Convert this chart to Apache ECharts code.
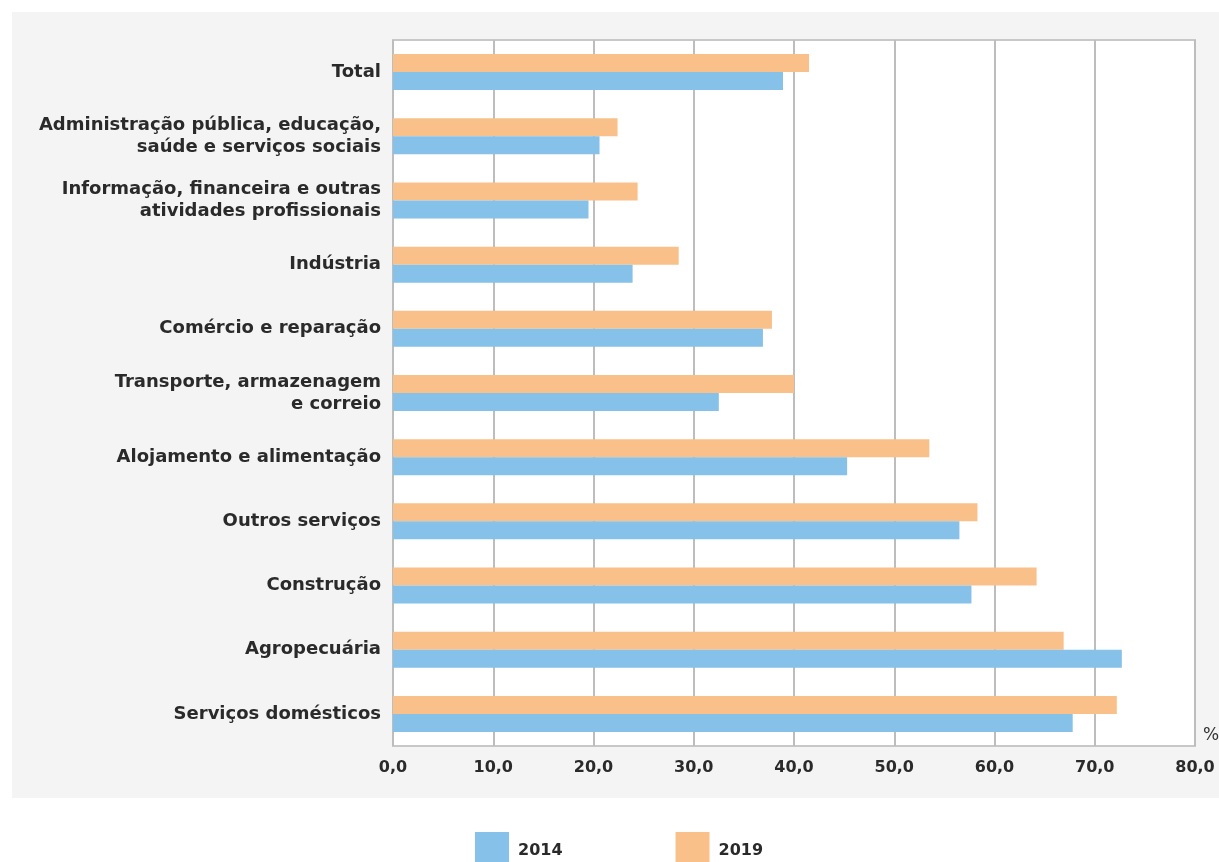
<!DOCTYPE html>
<html><head><meta charset="utf-8">
<script src="https://cdn.jsdelivr.net/npm/echarts@6/dist/echarts.min.js"></script>
<style>html,body{margin:0;padding:0;background:#fff}#c{width:1219px;height:862px}</style>
</head><body><div id="c"></div>
<script>
const categories = [
  'Total',
  'Administração pública, educação,\nsaúde e serviços sociais',
  'Informação, financeira e outras\natividades profissionais',
  'Indústria',
  'Comércio e reparação',
  'Transporte, armazenagem\ne correio',
  'Alojamento e alimentação',
  'Outros serviços',
  'Construção',
  'Agropecuária',
  'Serviços domésticos'
];
const values2014 = [38.9, 20.6, 19.5, 23.9, 36.9, 32.5, 45.3, 56.5, 57.7, 72.7, 67.8];
const values2019 = [41.5, 22.4, 24.4, 28.5, 37.8, 40.0, 53.5, 58.3, 64.2, 66.9, 72.2];
const xTicks = [0, 10, 20, 30, 40, 50, 60, 70, 80];

const chart = echarts.init(document.getElementById('c'), null, {renderer: 'canvas'});
const font = 'DejaVu Sans, sans-serif';
chart.setOption({
  animation: false,
  backgroundColor: '#ffffff',
  graphic: [{
    type: 'rect', z: -10, silent: true,
    shape: {x: 12, y: 12, width: 1207, height: 786},
    style: {fill: '#f4f4f4'}
  }],
  grid: {
    left: 393, right: 24, top: 40, bottom: 116,
    outerBoundsMode: 'none', containLabel: false,
    show: true, backgroundColor: '#ffffff', borderColor: '#c8c8c8', borderWidth: 2
  },
  legend: {
    data: ['2014', '2019'],
    left: 475, top: 832, padding: 0,
    itemWidth: 34, itemHeight: 30, itemGap: 113,
    formatter: '{a|{name}}',
    textStyle: {
      fontFamily: font, fontSize: 16, fontWeight: 'bold', color: '#2a2a2a',
      rich: {a: {fontFamily: font, fontSize: 16, fontWeight: 'bold', color: '#2a2a2a', padding: [8, 0, 0, 4]}}
    },
    icon: 'rect'
  },
  xAxis: {
    type: 'value', min: 0, max: 80, interval: 10,
    name: '%', nameLocation: 'end', nameGap: 8,
    nameTextStyle: {fontFamily: font, fontSize: 17, color: '#333', verticalAlign: 'bottom', padding: [0, 0, 2, 0]},
    axisLine: {show: false},
    axisTick: {show: false},
    splitLine: {show: true, lineStyle: {color: '#bdbdbd', width: 2}},
    axisLabel: {
      fontFamily: font, fontSize: 16, color: '#2a2a2a', margin: 14, fontWeight: 'bold',
      formatter: v => xTicks.includes(v) ? v.toFixed(1).replace('.', ',') : ''
    }
  },
  yAxis: {
    type: 'category', data: categories, inverse: true,
    axisLine: {show: false}, axisTick: {show: false},
    axisLabel: {
      fontFamily: font, fontSize: 18, fontWeight: 'bold', color: '#2a2a2a',
      margin: 12, lineHeight: 22, align: 'right'
    }
  },
  series: [
    {name: '2019', type: 'bar', data: values2019, barWidth: 18, barGap: '0%',
     itemStyle: {color: '#f9c08a'}},
    {name: '2014', type: 'bar', data: values2014, barWidth: 18, barGap: '0%',
     itemStyle: {color: '#85c1e9'}}
  ]
});
</script></body></html>
